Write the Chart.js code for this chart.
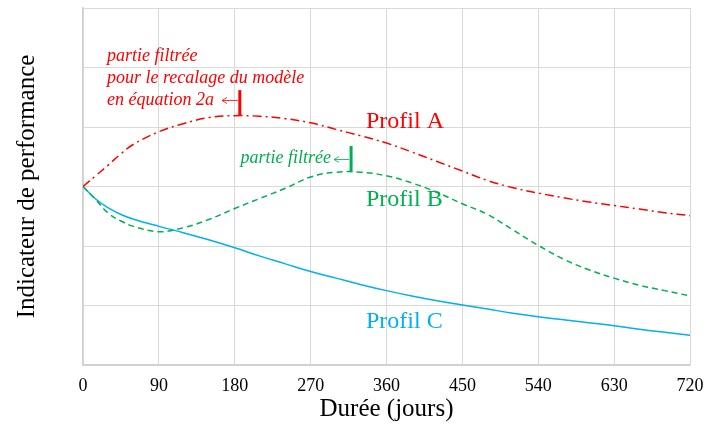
<!DOCTYPE html>
<html>
<head>
<meta charset="utf-8">
<script src="https://cdn.jsdelivr.net/npm/chart.js@4/dist/chart.umd.min.js"></script>
<style>
  html, body { margin: 0; padding: 0; background: #fff; }
  #wrap { width: 706px; height: 426px; }
</style>
</head>
<body>
<div id="wrap"><canvas id="chart"></canvas></div>
<script>
// Durée (jours) and the three performance profiles
const days = [0, 15, 30, 45, 60, 90, 120, 150, 180, 210, 240, 270, 300, 330, 360,
              390, 420, 450, 480, 510, 540, 570, 600, 630, 660, 690, 720];
const profilA = [3.0, 3.18, 3.36, 3.55, 3.71, 3.92, 4.06, 4.16, 4.19, 4.18, 4.14, 4.07, 3.96, 3.85, 3.73,
                 3.58, 3.42, 3.26, 3.10, 2.98, 2.89, 2.81, 2.74, 2.68, 2.62, 2.56, 2.51];
const profilB = [3.0, 2.78, 2.55, 2.42, 2.33, 2.24, 2.31, 2.45, 2.63, 2.80, 2.97, 3.16, 3.24, 3.24, 3.18,
                 3.06, 2.90, 2.71, 2.53, 2.27, 2.01, 1.78, 1.60, 1.46, 1.34, 1.25, 1.16];
const profilC = [3.0, 2.79, 2.64, 2.53, 2.45, 2.33, 2.22, 2.10, 1.97, 1.83, 1.70, 1.57, 1.46, 1.35, 1.25,
                 1.16, 1.08, 1.01, 0.94, 0.87, 0.81, 0.76, 0.71, 0.66, 0.60, 0.55, 0.50];
const xTicks = [0, 90, 180, 270, 360, 450, 540, 630, 720];

const RED = '#ff0000', GREEN = '#00b050', BLUE = '#00b0f0';
const SERIF = "'Liberation Serif', 'Times New Roman', serif";

function pts(ys) {
    return days.map((d, i) => ({ x: d, y: ys[i] }));
}

// labels and "partie filtrée" markers
const annotations = {
    id: 'annotations',
    afterDraw(chart) {
        const { ctx, scales: { x, y } } = chart;
        ctx.save();
        ctx.textBaseline = 'middle';

        ctx.font = '24px ' + SERIF;
        ctx.fillStyle = RED;   ctx.fillText('Profil A', 366, 122);
        ctx.fillStyle = GREEN; ctx.fillText('Profil B', 366, 200);
        ctx.fillStyle = BLUE;  ctx.fillText('Profil C', 366, 322);

        ctx.font = 'italic 18px ' + SERIF;
        ctx.fillStyle = RED;
        ctx.fillText('partie filtrée', 107, 56);
        ctx.fillText('pour le recalage du modèle', 107, 78);
        ctx.fillText('en équation 2a', 107, 100);
        ctx.fillStyle = GREEN;
        ctx.textAlign = 'right';
        ctx.fillText('partie filtrée', 331, 158);

        marker(ctx, x.getPixelForValue(186), y.getPixelForValue(4.19), y.getPixelForValue(4.62), 100.5, 222, RED);
        marker(ctx, x.getPixelForValue(318), y.getPixelForValue(3.25), y.getPixelForValue(3.68), 159.5, 334, GREEN);
        ctx.restore();
    }
};

function marker(ctx, px, yBottom, yTop, arrowY, arrowX, color) {
    ctx.strokeStyle = color;
    ctx.lineWidth = 3;
    ctx.beginPath();
    ctx.moveTo(px, yBottom);
    ctx.lineTo(px, yTop);
    ctx.stroke();
    ctx.lineWidth = 0.8;
    ctx.beginPath();
    ctx.moveTo(px - 2, arrowY);
    ctx.lineTo(arrowX, arrowY);
    ctx.moveTo(arrowX + 5, arrowY - 3);
    ctx.lineTo(arrowX, arrowY);
    ctx.lineTo(arrowX + 5, arrowY + 3);
    ctx.stroke();
}

new Chart(document.getElementById('chart'), {
    type: 'line',
    data: {
        datasets: [{
            label: 'Profil A',
            data: pts(profilA),
            borderColor: RED,
            borderWidth: 1.5,
            borderDash: [9, 4, 2, 4],
            pointRadius: 0,
            tension: 0.4
        }, {
            label: 'Profil B',
            data: pts(profilB),
            borderColor: GREEN,
            borderWidth: 1.5,
            borderDash: [6, 4],
            pointRadius: 0,
            tension: 0.4
        }, {
            label: 'Profil C',
            data: pts(profilC),
            borderColor: BLUE,
            borderWidth: 1.5,
            pointRadius: 0,
            tension: 0.4
        }]
    },
    options: {
        responsive: true,
        maintainAspectRatio: false,
        animation: false,
        layout: { padding: { top: 8, right: 16, bottom: 0, left: 0 } },
        plugins: {
            legend: { display: false },
            tooltip: { enabled: false }
        },
        scales: {
            x: {
                type: 'linear',
                min: 0,
                max: 720,
                afterBuildTicks: scale => { scale.ticks = xTicks.map(v => ({ value: v })); },
                afterFit: scale => {
                    scale.height = 61;
                    scale.paddingLeft = 0;
                    scale.paddingRight = 0;
                },
                grid: { color: '#d9d9d9', drawTicks: false },
                border: { color: '#d0d0d0', width: 1.5 },
                ticks: { color: '#000', padding: 10, font: { family: SERIF, size: 18 }, maxRotation: 0 },
                title: {
                    display: true,
                    text: 'Durée (jours)',
                    color: '#000',
                    font: { family: SERIF, size: 25 },
                    padding: { top: 0, bottom: 2 }
                }
            },
            y: {
                min: 0,
                max: 6,
                afterFit: scale => {
                    scale.width = 83;
                    scale.paddingTop = 0;
                    scale.paddingBottom = 0;
                },
                grid: { color: '#d9d9d9', drawTicks: false },
                border: { color: '#d0d0d0', width: 1.5 },
                ticks: { display: false, stepSize: 1 },
                title: {
                    display: true,
                    text: 'Indicateur de performance',
                    color: '#000',
                    font: { family: SERIF, size: 25 },
                    padding: { top: 12, bottom: 0 }
                }
            }
        }
    },
    plugins: [annotations]
});
</script>
</body>
</html>
